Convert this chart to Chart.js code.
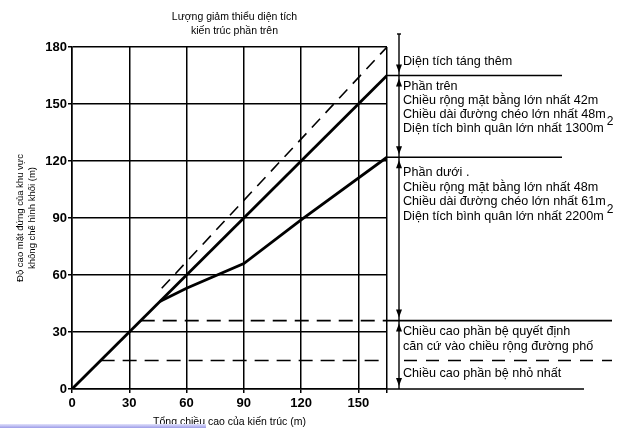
<!DOCTYPE html>
<html lang="vi">
<head>
<meta charset="utf-8">
<script src="https://cdn.jsdelivr.net/npm/chart.js@4.4.1/dist/chart.umd.min.js"></script>
<style>
  html, body { margin: 0; padding: 0; background: #fff; }
  #khung { position: relative; width: 642px; height: 428px; }
  #vet { position: absolute; left: 0; top: 424px; width: 206px; height: 4px; background: linear-gradient(#e2e2fb, #9c9ce8); }
</style>
</head>
<body>
<div id="khung">
  <canvas id="bieuDo" width="642" height="428"></canvas>
  <div id="vet"></div>
</div>
<script>
// truc
const xTicks = [0, 30, 60, 90, 120, 150];
const xMax = 165;
const yTicks = [0, 30, 60, 90, 120, 150, 180];

// duong phan tren (lien)
const trenX = [0, 165];
const trenY = [0, 165];
// duong phan duoi (lien)
const duoiX = [46, 60, 90, 120, 165];
const duoiY = [46, 53, 66, 89, 122];
// duong vat (net dut)
const vatX = [47, 165];
const vatY = [53, 180];
// chieu cao phan be (net dut)
const beQuyetDinhX = [36, 165];
const beQuyetDinhY = [36, 36];
const beNhoNhatX = [15, 165];
const beNhoNhatY = [15, 15];

// cac muc ben phai
const mucPhai = [165, 122, 36, 0];

const tieuDeTren = ["Lượng giảm thiểu diện tích", "kiến trúc phần trên"];
const khoiTren = ["Phần trên", "Chiều rộng mặt bằng lớn nhất 42m", "Chiều dài đường chéo lớn nhất 48m", "Diện tích bình quân lớn nhất 1300m"];
const khoiDuoi = ["Phần dưới .", "Chiều rộng mặt bằng lớn nhất 48m", "Chiều dài đường chéo lớn nhất 61m", "Diện tích bình quân lớn nhất 2200m"];
const khoiBe = ["Chiều cao phần bệ quyết định", "căn cứ vào chiều rộng đường phố"];

function ghep(xs, ys) {
  return xs.map((x, i) => ({ x, y: ys[i] }));
}

function duong(label, xs, ys, rong, net) {
  return {
    label,
    data: ghep(xs, ys),
    borderColor: "#000",
    borderWidth: rong,
    borderDash: net || [],
    pointRadius: 0,
    fill: false,
    tension: 0
  };
}

const chuThich = {
  id: "chuThich",
  afterDraw(chart) {
    const { ctx, chartArea, scales } = chart;
    const py = v => scales.y.getPixelForValue(v);
    const xDoc = 399;

    const ke = (x1, y1, x2, y2) => {
      ctx.beginPath(); ctx.moveTo(x1, y1); ctx.lineTo(x2, y2); ctx.stroke();
    };
    const muiTen = (x, ty, huong) => {
      ctx.beginPath();
      ctx.moveTo(x, ty);
      ctx.lineTo(x - 3, ty - huong * 8);
      ctx.lineTo(x + 3, ty - huong * 8);
      ctx.closePath();
      ctx.fill();
    };

    ctx.save();
    ctx.strokeStyle = "#000";
    ctx.fillStyle = "#000";
    ctx.lineWidth = 1.6;

    const dauPhai = [562, 562, 612, 584];
    mucPhai.forEach((m, i) => ke(chartArea.right, py(m), dauPhai[i], py(m)));

    ctx.setLineDash([13, 9]);
    ke(404, py(beNhoNhatY[0]), 612, py(beNhoNhatY[0]));
    ctx.setLineDash([]);

    ctx.lineWidth = 1.4;
    ke(xDoc, 34, xDoc, chartArea.bottom);
    ke(xDoc - 2, 34, xDoc + 2, 34);

    muiTen(xDoc, py(mucPhai[0]) - 3, 1);
    muiTen(xDoc, py(mucPhai[0]) + 3, -1);
    muiTen(xDoc, py(mucPhai[1]) - 3, 1);
    muiTen(xDoc, py(mucPhai[1]) + 3, -1);
    muiTen(xDoc, py(mucPhai[2]) - 3, 1);
    muiTen(xDoc, py(mucPhai[2]) + 3, -1);
    muiTen(xDoc, py(mucPhai[3]) - 3, 1);

    ctx.textBaseline = "middle";
    ctx.textAlign = "center";
    ctx.font = "10.5px 'Liberation Sans'";
    const giua = (chartArea.left + chartArea.right) / 2;
    ctx.fillText(tieuDeTren[0], giua + 5, 17);
    ctx.fillText(tieuDeTren[1], giua + 5, 31);

    ctx.textAlign = "left";
    const chu = "12.6px 'Liberation Sans'";
    ctx.font = chu;
    const xChu = 403;
    ctx.fillText("Diện tích táng thêm", xChu, 62);

    khoiTren.forEach((t, i) => ctx.fillText(t, xChu, 87 + i * 14));
    khoiDuoi.forEach((t, i) => ctx.fillText(t, xChu, 173 + i * 14.5));
    khoiBe.forEach((t, i) => ctx.fillText(t, xChu, 332 + i * 15));
    ctx.fillText("Chiều cao phần bệ nhỏ nhất", xChu, 374);

    const mu = (t, yDong) => {
      const w = ctx.measureText(t).width;
      ctx.font = "12px 'Liberation Sans'";
      ctx.fillText("2", xChu + w + 3, yDong - 7);
      ctx.font = chu;
    };
    mu(khoiTren[3], 87 + 3 * 14);
    mu(khoiDuoi[3], 173 + 3 * 14.5);

    ctx.restore();
  }
};

new Chart(document.getElementById("bieuDo"), {
  type: "line",
  data: {
    datasets: [
      duong("Phần trên", trenX, trenY, 2.8),
      duong("Phần dưới", duoiX, duoiY, 2.8),
      duong("Giới hạn", vatX, vatY, 1.6, [12, 8]),
      duong("Bệ quyết định", beQuyetDinhX, beQuyetDinhY, 1.6, [14, 8]),
      duong("Bệ nhỏ nhất", beNhoNhatX, beNhoNhatY, 1.6, [14, 8])
    ]
  },
  options: {
    responsive: false,
    animation: false,
    layout: { padding: { top: 47, right: 255, left: 0, bottom: 0 } },
    plugins: { legend: { display: false }, tooltip: { enabled: false } },
    scales: {
      x: {
        type: "linear",
        min: 0,
        max: xMax,
        afterBuildTicks: s => { s.ticks = xTicks.concat([xMax]).map(v => ({ value: v })); },
        afterFit: s => { s.height = 39; },
        ticks: {
          color: "#000",
          padding: 3,
          autoSkip: false,
          maxRotation: 0,
          font: { family: "'Liberation Sans'", size: 13, weight: "bold" },
          callback: v => (xTicks.includes(v) ? v : "")
        },
        grid: { color: "#000", lineWidth: 1.5, tickLength: 4 },
        border: { color: "#000", width: 1.5 },
        title: {
          display: true,
          text: "Tổng chiều cao của kiến trúc (m)",
          color: "#000",
          font: { family: "'Liberation Sans'", size: 10.5 },
          padding: { top: 0, bottom: 0 }
        }
      },
      y: {
        min: 0,
        max: 180,
        afterBuildTicks: s => { s.ticks = yTicks.map(v => ({ value: v })); },
        afterFit: s => { s.width = 72; },
        ticks: {
          color: "#000",
          padding: 1,
          font: { family: "'Liberation Sans'", size: 13, weight: "bold" }
        },
        grid: { color: "#000", lineWidth: 1.5, tickLength: 4 },
        border: { color: "#000", width: 1.5 },
        title: {
          display: true,
          text: ["Độ cao mặt đứng của khu vực", "không chế hình khối (m)"],
          color: "#000",
          font: { family: "'Liberation Sans'", size: 9.5, lineHeight: 1.3 },
          padding: { top: 14, bottom: 0 }
        }
      }
    }
  },
  plugins: [chuThich]
});
</script>
</body>
</html>
